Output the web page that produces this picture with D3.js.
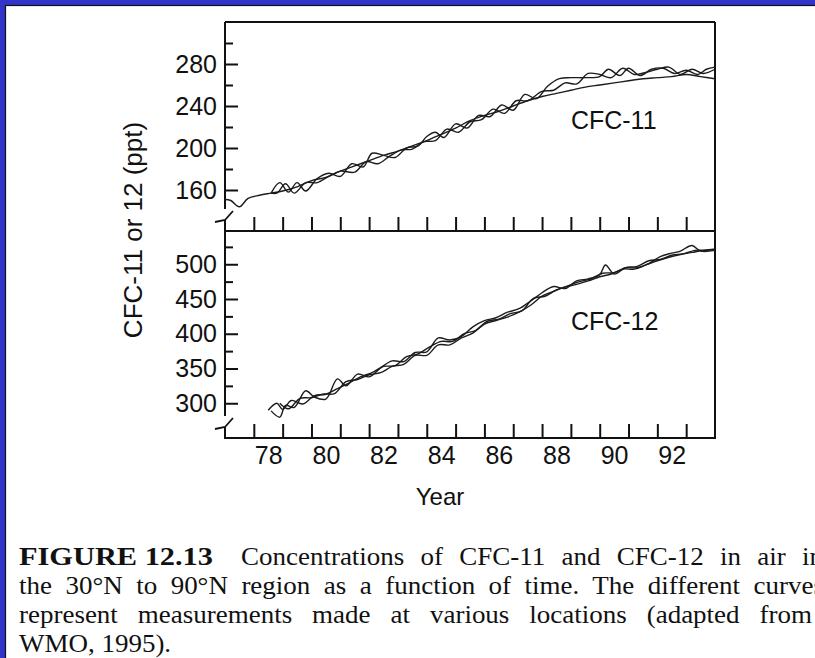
<!DOCTYPE html>
<html>
<head>
<meta charset="utf-8">
<script src="https://cdn.jsdelivr.net/npm/d3@7"></script>
<style>
  body { margin: 0; background: #fff; overflow: hidden; }
  svg { display: block; }
</style>
</head>
<body>
<div id="chart"></div>
<script>
// ---------------------------------------------------------------
// Data: [year, mixing ratio in ppt]
// ---------------------------------------------------------------
const cfc11_a = [[1977.0,151],[1977.2,150],[1977.5,144],[1977.8,152],[1978.2,155],[1978.6,157],[1979.0,159],
  [1979.5,163],[1980.0,169],[1980.5,172],[1981.0,178],[1981.5,183],[1982.0,188],[1982.5,193],[1983.0,197],
  [1983.5,202],[1984.0,207],[1984.5,213],[1985.0,219],[1985.5,226],[1986.0,231],[1986.5,235],[1987.0,240],
  [1987.5,245],[1988.0,249],[1988.5,252],[1989.0,255],[1989.5,258],[1990.0,260],[1990.5,262],[1991.0,264],
  [1991.5,266],[1992.0,267],[1992.5,268],[1993.0,270],[1993.5,268],[1994.0,266]];

const cfc11_b = [[1978.6,157],[1978.9,167],[1979.2,158],[1979.5,167],[1979.8,159],[1980.2,171],[1980.6,176],
  [1981.0,173],[1981.4,185],[1981.8,182],[1982.1,195],[1982.5,193],[1982.9,191],[1983.3,200],[1983.7,202],
  [1984.0,211],[1984.3,215],[1984.6,210],[1985.0,223],[1985.4,219],[1985.8,231],[1986.2,230],[1986.6,241],
  [1987.0,236],[1987.4,251],[1987.8,247],[1988.2,259],[1988.6,266],[1989.0,267],[1989.5,267],[1990.0,268],
  [1990.3,275],[1990.7,269],[1991.0,276],[1991.4,269],[1991.8,275],[1992.2,276],[1992.6,271],[1993.0,274],
  [1993.4,270],[1993.7,275],[1994.0,277]];

const cfc11_c = [[1978.6,157],[1978.8,157],[1979.1,166],[1979.4,157],[1979.8,167],[1980.2,167],[1980.6,173],
  [1981.0,178],[1981.5,177],[1981.9,187],[1982.3,185],[1982.7,192],[1983.1,198],[1983.5,199],[1983.9,206],
  [1984.3,207],[1984.7,218],[1985.1,215],[1985.5,225],[1985.9,227],[1986.3,237],[1986.7,233],[1987.1,245],
  [1987.5,245],[1988.0,254],[1988.4,255],[1988.8,262],[1989.2,261],[1989.6,271],[1990.0,270],[1990.4,267],
  [1990.8,276],[1991.2,270],[1991.6,272],[1992.0,275],[1992.4,277],[1992.8,270],[1993.2,275],[1993.6,271],
  [1994.0,275]];

const cfc12_a = [[1978.5,290],[1978.8,300],[1979.0,291],[1979.3,304],[1979.7,299],[1980.1,311],[1980.5,313],
  [1980.9,321],[1981.3,329],[1981.7,338],[1982.1,344],[1982.5,353],[1982.9,354],[1983.3,367],[1983.7,371],
  [1984.1,381],[1984.5,389],[1984.9,389],[1985.3,400],[1985.7,405],[1986.1,418],[1986.5,421],[1986.9,429],
  [1987.3,433],[1987.7,451],[1988.1,454],[1988.5,463],[1988.9,469],[1989.3,475],[1989.7,479],[1990.1,487],
  [1990.5,488],[1990.9,495],[1991.3,497],[1991.7,505],[1992.1,507],[1992.5,513],[1992.9,515],[1993.3,520],
  [1993.7,520],[1994.0,521]];

const cfc12_b = [[1978.6,289],[1978.9,280],[1979.1,297],[1979.4,294],[1979.8,318],[1980.1,309],[1980.5,306],
  [1980.9,335],[1981.2,325],[1981.6,342],[1982.0,338],[1982.4,351],[1982.8,361],[1983.2,360],[1983.6,373],
  [1984.0,374],[1984.4,394],[1984.8,391],[1985.2,396],[1985.6,410],[1986.0,419],[1986.4,423],[1986.8,431],
  [1987.2,436],[1987.6,447],[1988.0,459],[1988.4,468],[1988.8,465],[1989.2,476],[1989.6,479],[1990.0,485],
  [1990.2,499],[1990.5,486],[1990.9,495],[1991.3,495],[1991.7,501],[1992.1,511],[1992.5,516],[1992.8,519],
  [1993.2,527],[1993.5,519],[1994.0,520]];

const cfc12_c = [[1978.9,300],[1979.2,292],[1979.6,307],[1980.0,308],[1980.4,313],[1980.8,314],[1981.2,331],
  [1981.6,334],[1982.0,341],[1982.4,344],[1982.8,353],[1983.2,356],[1983.6,369],[1984.0,369],[1984.4,384],
  [1984.8,384],[1985.2,394],[1985.6,401],[1986.0,414],[1986.4,419],[1986.8,424],[1987.2,431],[1987.6,441],
  [1988.0,454],[1988.4,461],[1988.8,467],[1989.2,471],[1989.6,476],[1990.0,482],[1990.4,486],[1990.8,493],
  [1991.2,493],[1991.6,499],[1992.0,505],[1992.4,510],[1992.8,514],[1993.2,517],[1993.6,520],[1994.0,522]];

// Ticks and labels
const cfc11_major = [160, 200, 240, 280];
const cfc11_minor = [180, 220, 260, 300];
const cfc12_major = [300, 350, 400, 450, 500];
const cfc12_minor = [325, 375, 425, 475, 525];
const year_ticks = d3.range(1978, 1994);
const year_labels = ["78", "80", "82", "84", "86", "88", "90", "92"];

const caption_head = "FIGURE 12.13";
const caption_lines = [
  "Concentrations of CFC-11 and CFC-12 in air in",
  "the 30°N to 90°N region as a function of time. The different curves",
  "represent measurements made at various locations (adapted from",
  "WMO, 1995)."
];

// ---------------------------------------------------------------
// Layout constants
// ---------------------------------------------------------------
const C = {
  width: 815,
  height: 658,
  left: 225,
  right: 715,
  top: 22,
  mid: 231,
  bottom: 438,
  ink: '#111',
  line_color: '#1c1c1c',
  sans: '"Liberation Sans", Arial, Helvetica, sans-serif',
  serif: '"Liberation Serif", "Times New Roman", serif',
  blue: '#3333cc'
};

const svg = d3.select('#chart').append('svg')
  .attr('width', C.width)
  .attr('height', C.height);

// page background with blue frame on the left/top
svg.append('rect').attr('width', C.width).attr('height', C.height).attr('fill', C.blue);
svg.append('rect')
  .attr('x', 5.5).attr('y', 5.5)
  .attr('width', C.width + 10).attr('height', C.height + 10)
  .attr('fill', '#fff').attr('stroke', '#111').attr('stroke-width', 1.2);

// Scales
const x = d3.scaleLinear().domain([1977, 1994]).range([C.left, C.right]);
const y11 = d3.scaleLinear().domain([120, 320]).range([232, C.top]);
const y12 = d3.scaleLinear().domain([250, 550]).range([C.bottom, 229.5]);

const plot = svg.append('g');

// Frame lines (left axis drawn separately because of the breaks)
const frame = [
  [[C.left, C.top], [C.right, C.top]],
  [[C.right, C.top], [C.right, C.bottom]],
  [[C.left, C.mid], [C.right, C.mid]],
  [[C.left - 1, C.bottom], [C.right + 1, C.bottom]]
];
plot.selectAll('line.frame')
  .data(frame)
  .enter().append('line')
  .attr('class', 'frame')
  .attr('x1', d => d[0][0]).attr('y1', d => d[0][1])
  .attr('x2', d => d[1][0]).attr('y2', d => d[1][1])
  .attr('stroke', C.ink).attr('stroke-width', 2);

// Left axis with break marks near the bottom of each panel
const breaks = [217, 424];
const left_segments = [[C.top, breaks[0] - 8], [breaks[0] + 3, C.mid], [C.mid, breaks[1] - 8], [breaks[1] + 3, C.bottom + 1]];
plot.selectAll('line.leftaxis')
  .data(left_segments)
  .enter().append('line')
  .attr('class', 'leftaxis')
  .attr('x1', C.left).attr('x2', C.left)
  .attr('y1', d => d[0]).attr('y2', d => d[1])
  .attr('stroke', C.ink).attr('stroke-width', 2);

plot.selectAll('path.break')
  .data(breaks)
  .enter().append('path')
  .attr('class', 'break')
  .attr('d', b => `M${C.left - 10},${b + 5} L${C.left},${b + 3} L${C.left + 8},${b - 6}`)
  .attr('fill', 'none').attr('stroke', C.ink).attr('stroke-width', 1.8);

// Y axes (ticks pointing inward)
function y_axis(scale, major, minor) {
  const g = plot.append('g').attr('transform', `translate(${C.left},0)`);
  g.call(d3.axisLeft(scale).tickValues(major).tickSize(-13).tickPadding(8));
  g.append('g').call(d3.axisLeft(scale).tickValues(minor).tickSize(-8).tickFormat(''));
  g.selectAll('.domain').remove();
  g.selectAll('line').attr('stroke', C.ink).attr('stroke-width', 2);
  g.selectAll('text')
    .attr('fill', C.ink)
    .style('font-family', C.sans)
    .style('font-size', '25px');
}
y_axis(y11, cfc11_major, cfc11_minor);
y_axis(y12, cfc12_major, cfc12_minor);

// X ticks at the foot of each panel (pointing up)
[C.mid, C.bottom].forEach(yy => {
  const g = plot.append('g').attr('transform', `translate(0,${yy})`);
  g.call(d3.axisBottom(x).tickValues(year_ticks).tickSize(-14).tickFormat(''));
  g.selectAll('.domain').remove();
  g.selectAll('line').attr('stroke', C.ink).attr('stroke-width', 2);
});

// Year labels sit in the middle of each year interval
const label_years = year_labels.map(s => 1900 + (+s) + 0.5);
const xl = plot.append('g').attr('transform', `translate(0,${C.bottom})`);
xl.call(d3.axisBottom(x).tickValues(label_years).tickSize(0).tickPadding(8)
  .tickFormat((d, i) => year_labels[i]));
xl.selectAll('.domain').remove();
xl.selectAll('text')
  .attr('fill', C.ink)
  .style('font-family', C.sans)
  .style('font-size', '25px');

// Axis titles
svg.append('text')
  .attr('x', (C.left + C.right) / 2 - 30)
  .attr('y', 505)
  .attr('text-anchor', 'middle')
  .attr('fill', C.ink)
  .style('font-family', C.sans)
  .style('font-size', '24px')
  .text('Year');

svg.append('text')
  .attr('transform', 'translate(142,230) rotate(-90)')
  .attr('text-anchor', 'middle')
  .attr('fill', C.ink)
  .style('font-family', C.sans)
  .style('font-size', '26px')
  .text('CFC-11 or 12 (ppt)');

// Curves
const line11 = d3.line().x(d => x(d[0])).y(d => y11(d[1])).curve(d3.curveCatmullRom.alpha(0.5));
const line12 = d3.line().x(d => x(d[0])).y(d => y12(d[1])).curve(d3.curveCatmullRom.alpha(0.5));

plot.selectAll('path.cfc11')
  .data([cfc11_a, cfc11_b, cfc11_c])
  .enter().append('path')
  .attr('class', 'cfc11')
  .attr('d', line11)
  .attr('fill', 'none').attr('stroke', C.line_color).attr('stroke-width', 1.4);

plot.selectAll('path.cfc12')
  .data([cfc12_a, cfc12_b, cfc12_c])
  .enter().append('path')
  .attr('class', 'cfc12')
  .attr('d', line12)
  .attr('fill', 'none').attr('stroke', C.line_color).attr('stroke-width', 1.4);

// Panel labels
const panel_labels = [
  {text: 'CFC-11', year: 1989.0, value: 218, scale: y11},
  {text: 'CFC-12', year: 1989.0, value: 406, scale: y12}
];
plot.selectAll('text.panel')
  .data(panel_labels)
  .enter().append('text')
  .attr('class', 'panel')
  .attr('x', d => x(d.year))
  .attr('y', d => d.scale(d.value))
  .attr('fill', C.ink)
  .style('font-family', C.sans)
  .style('font-size', '25px')
  .text(d => d.text);

// Caption: the scan's type is a little wider than Liberation Serif,
// so the block is stretched horizontally, then justified with word spacing.
const sx = 1.08;
const cap = svg.append('g')
  .attr('transform', `scale(${sx},1)`)
  .style('font-family', C.serif)
  .style('font-size', '25px')
  .attr('fill', C.ink);

cap.append('text')
  .attr('x', 19 / sx).attr('y', 565)
  .style('font-weight', 'bold')
  .attr('textLength', 194 / sx)
  .attr('lengthAdjust', 'spacingAndGlyphs')
  .text(caption_head);

const cap_layout = [
  {x: 241, y: 565, w: 582},
  {x: 19, y: 594, w: 805},
  {x: 19, y: 623, w: 793},
  {x: 19, y: 652, w: null}
];
caption_lines.forEach((s, i) => {
  const L = cap_layout[i];
  const t = cap.append('text').attr('x', L.x / sx).attr('y', L.y).text(s);
  if (L.w) {
    const natural = t.node().getComputedTextLength();
    const gaps = s.split(' ').length - 1;
    t.style('word-spacing', Math.max(0, (L.w / sx - natural) / gaps) + 'px');
  }
});
</script>
</body>
</html>
